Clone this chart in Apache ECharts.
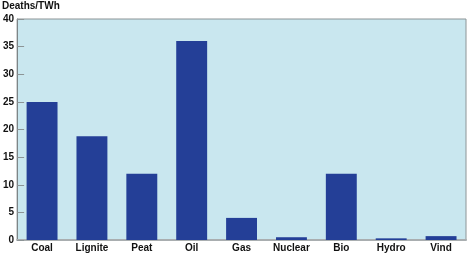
<!DOCTYPE html>
<html><head><meta charset="utf-8">
<script src="https://cdn.jsdelivr.net/npm/echarts@6/dist/echarts.min.js"></script>
<style>html,body{margin:0;padding:0;background:#fff}#c{width:470px;height:254px}</style>
</head><body><div id="c"></div>
<script>
const categories = ["Coal","Lignite","Peat","Oil","Gas","Nuclear","Bio","Hydro","Vind"];
const deaths = [25, 18.8, 12, 36, 4, 0.5, 12, 0.3, 0.7];
const yTicks = [0,5,10,15,20,25,30,35,40];
const chart = echarts.init(document.getElementById('c'), null, {renderer:'canvas'});
chart.setOption({
  animation:false,
  title:{text:'Deaths/TWh', left:2, top:1, padding:0, textStyle:{fontFamily:'Liberation Sans, Arial', fontWeight:'bold', fontSize:10, color:'#111'}},
  grid:{left:17, right:4, top:19, bottom:14, show:true, backgroundColor:'#c9e7ef', borderColor:'#8c9496', borderWidth:1},
  xAxis:{type:'category', data:categories,
    axisLine:{show:true, lineStyle:{color:'#a9aeb0', width:2}},
    axisTick:{show:false},
    axisLabel:{fontFamily:'Liberation Sans, Arial', fontWeight:'bold', fontSize:10, color:'#111', margin:3, interval:0}},
  yAxis:{type:'value', min:0, max:40, interval:5,
    axisLine:{show:true, lineStyle:{color:'#7d8587', width:1}},
    axisTick:{show:true, inside:true, length:7, lineStyle:{color:'#8c9496'}},
    splitLine:{show:false},
    axisLabel:{fontFamily:'Liberation Sans, Arial', fontWeight:'bold', fontSize:10, color:'#111', margin:3,
      formatter:v=>yTicks.includes(v)?String(v):''}},
  series:[{type:'bar', data:deaths, barWidth:'62%', itemStyle:{color:'#243f97'}}]
});
</script></body></html>
